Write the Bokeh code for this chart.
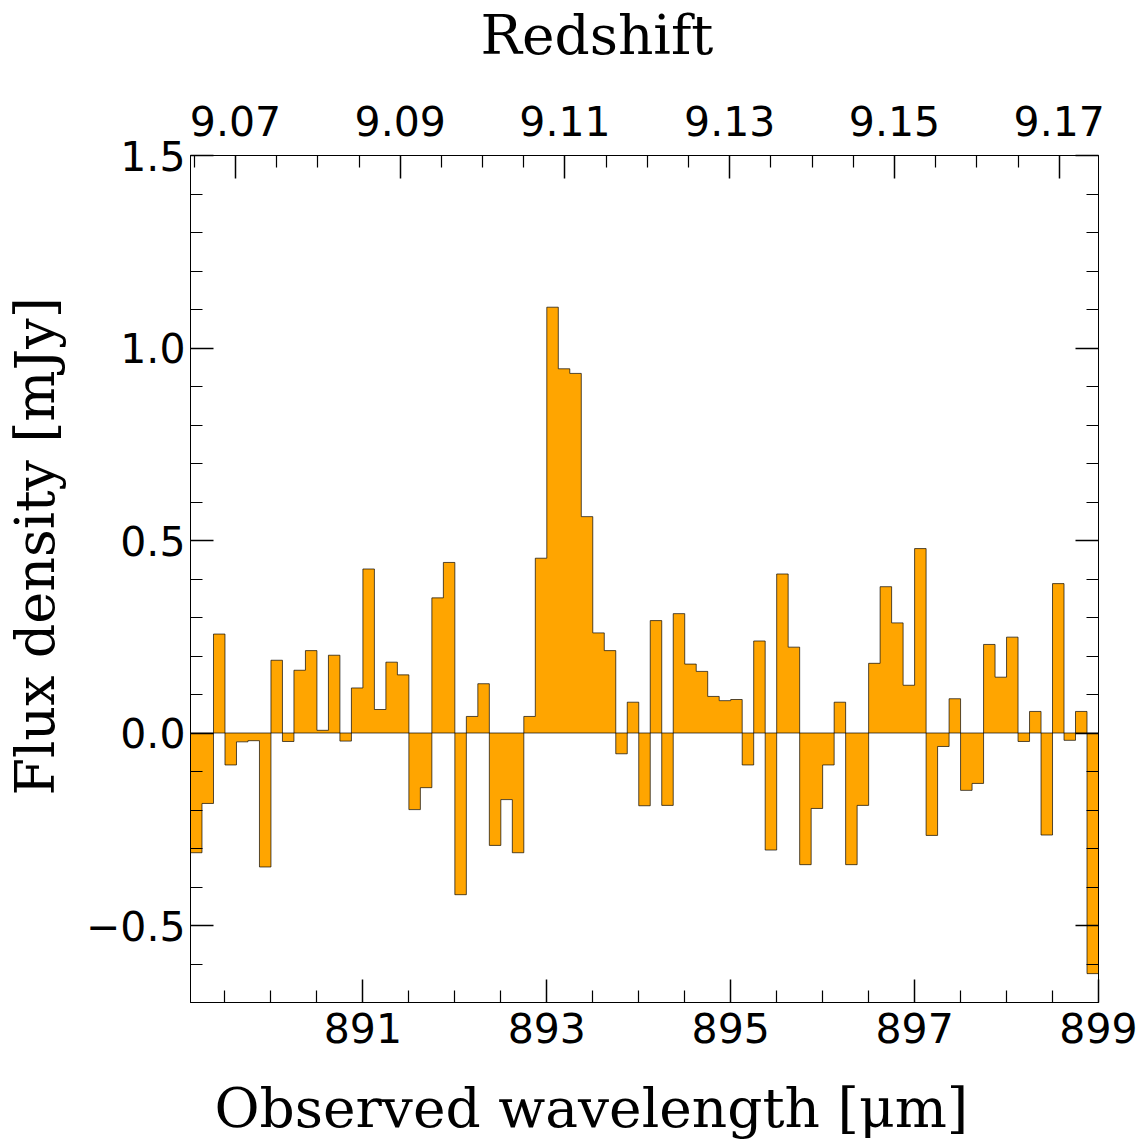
import numpy as np
from bokeh.plotting import figure
from bokeh.models import Range1d, LinearAxis, FixedTicker, Title, Span
from bokeh.embed import file_html
from bokeh.resources import INLINE

# ---- data ----
chan_start = 889.125   # left edge of first channel [um]
chan_width = 0.125     # channel width [um]
flux = [-0.311, -0.183, 0.257, -0.083, -0.023, -0.020, -0.348, 0.189, -0.022, 0.163,
        0.214, 0.007, 0.202, -0.021, 0.117, 0.426, 0.061, 0.184, 0.151, -0.199,
        -0.142, 0.351, 0.443, -0.420, 0.043, 0.128, -0.292, -0.173, -0.311, 0.043,
        0.454, 1.106, 0.946, 0.934, 0.562, 0.260, 0.214, -0.054, 0.080, -0.189,
        0.292, -0.188, 0.310, 0.179, 0.160, 0.095, 0.084, 0.087, -0.083, 0.239,
        -0.304, 0.413, 0.223, -0.342, -0.196, -0.083, 0.080, -0.342, -0.188, 0.181,
        0.380, 0.286, 0.124, 0.479, -0.266, -0.035, 0.089, -0.149, -0.131, 0.230,
        0.145, 0.249, -0.022, 0.056, -0.265, 0.388, -0.019, 0.056, -0.625]

x_ticks = [891, 893, 895, 897, 899]
x_minor = [889.5, 890, 890.5, 891.5, 892, 892.5, 893.5, 894, 894.5, 895.5, 896,
           896.5, 897.5, 898, 898.5]
z_ticks = [9.07, 9.09, 9.11, 9.13, 9.15, 9.17]
z_minor = [9.065, 9.075, 9.08, 9.085, 9.095, 9.10, 9.105, 9.115, 9.12, 9.125,
           9.135, 9.14, 9.145, 9.155, 9.16, 9.165]
y_ticks = [-0.5, 0.0, 0.5, 1.0, 1.5]
y_labels = ["\u22120.5", "0.0", "0.5", "1.0", "1.5"]
y_minor = [-0.6, -0.4, -0.3, -0.2, -0.1, 0.1, 0.2, 0.3, 0.4, 0.6, 0.7, 0.8, 0.9,
           1.1, 1.2, 1.3, 1.4]

x_label = "Observed wavelength [\u03bcm]"
y_label = "Flux density [mJy]"
top_label = "Redshift"

# ---- figure ----
n = len(flux)
edges = chan_start + chan_width * np.arange(n + 1)
step_y = list(flux) + [flux[-1]]

p = figure(width=1146, height=1143, output_backend="svg", toolbar_location=None,
           x_range=Range1d(889.125, 899.0), y_range=Range1d(-0.70, 1.5),
           min_border_left=190, min_border_right=48, min_border_top=154,
           min_border_bottom=141)
p.extra_x_ranges = {"z": Range1d(9.06454, 9.17477)}
p.grid.visible = False
p.outline_line_color = "black"
p.outline_line_width = 1
p.background_fill_color = "white"
p.border_fill_color = "white"

# filled step spectrum
p.varea_step(x=edges, y1=np.zeros(n + 1), y2=step_y, step_mode="after",
             fill_color="#FFA500")
p.step(x=edges, y=step_y, mode="after", line_color="black",
       line_width=0.8, line_alpha=0.85)
p.add_layout(Span(location=0, dimension="width", line_color="black",
                  line_width=0.8, line_alpha=0.85))

tick_font = "DejaVu Sans"
tick_size = "41px"

def style_axis(ax, label_size=tick_size, standoff=6):
    ax.axis_line_color = "black"
    ax.axis_line_width = 1
    ax.major_tick_in = 23
    ax.major_tick_out = 0
    ax.minor_tick_in = 12
    ax.minor_tick_out = 0
    ax.major_tick_line_color = "black"
    ax.minor_tick_line_color = "black"
    ax.major_tick_line_width = 1.5
    ax.minor_tick_line_width = 1.2
    ax.major_label_text_font = tick_font
    ax.major_label_text_font_size = label_size
    ax.major_label_text_color = "black"
    ax.major_label_standoff = standoff

def spacer(ax, size):
    # invisible axis used only to reserve space between an axis and its title
    ax.axis_line_color = None
    ax.major_tick_line_color = None
    ax.minor_tick_line_color = None
    ax.major_tick_in = 0
    ax.major_tick_out = size
    ax.minor_tick_in = 0
    ax.minor_tick_out = 0
    ax.major_label_standoff = 0
    ax.major_label_text_font_size = "0px"
    ax.major_label_text_alpha = 0

# bottom axis
xa = p.xaxis[0]
xa.ticker = FixedTicker(ticks=x_ticks, minor_ticks=x_minor)
style_axis(xa, standoff=10)

# left axis
ya = p.yaxis[0]
ya.ticker = FixedTicker(ticks=y_ticks, minor_ticks=y_minor)
ya.major_label_overrides = {t: l for t, l in zip(y_ticks, y_labels)}
style_axis(ya, standoff=5)

# top axis (redshift)
za = LinearAxis(x_range_name="z", ticker=FixedTicker(ticks=z_ticks, minor_ticks=z_minor))
za.major_label_overrides = {t: f"{t:.2f}" for t in z_ticks}
style_axis(za, standoff=20)
p.add_layout(za, "above")

# right axis (ticks only)
ra = LinearAxis(ticker=FixedTicker(ticks=y_ticks, minor_ticks=y_minor))
style_axis(ra, label_size="0px", standoff=0)
ra.major_label_text_alpha = 0
p.add_layout(ra, "right")

# spacers
sp_top = LinearAxis(ticker=FixedTicker(ticks=[895]))
spacer(sp_top, 36)
p.add_layout(sp_top, "above")
sp_bot = LinearAxis(ticker=FixedTicker(ticks=[895]))
spacer(sp_bot, 28)
p.add_layout(sp_bot, "below")
sp_left = LinearAxis(ticker=FixedTicker(ticks=[0.0]))
spacer(sp_left, 16)
p.add_layout(sp_left, "left")

label_font = "DejaVu Serif"
p.add_layout(Title(text=top_label, align="left", offset=290, standoff=0,
                   text_font=label_font, text_font_size="55px",
                   text_font_style="normal", text_color="black"), "above")
p.add_layout(Title(text=x_label, align="left", offset=24, standoff=0,
                   text_font=label_font, text_font_size="55px",
                   text_font_style="normal", text_color="black"), "below")
p.add_layout(Title(text=y_label, align="left", offset=207, standoff=0,
                   text_font=label_font, text_font_size="54px",
                   text_font_style="normal", text_color="black"), "left")

open("out.html", "w").write(file_html(p, INLINE))
